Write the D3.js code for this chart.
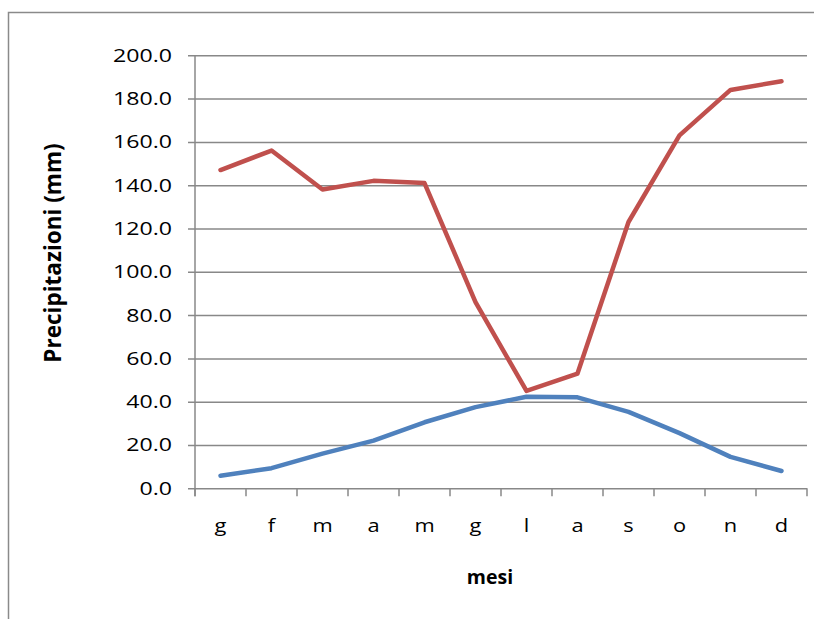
<!DOCTYPE html>
<html><head><meta charset="utf-8">
<script src="https://cdn.jsdelivr.net/npm/d3@7"></script>
<style>body{margin:0;background:#fff}svg{display:block}</style>
</head><body>
<svg id="c" width="814" height="619"></svg>
<script>
const months = ["g","f","m","a","m","g","l","a","s","o","n","d"];
const precipitazioni = [147,156,138,142,141,86,45,53,123,163,184,188];
const temperature = [5.8,9.3,16,22,30.5,37.5,42.3,42,35.3,25.5,14.5,8];
const yTicks = [0,20,40,60,80,100,120,140,160,180,200];
const xTitle = "mesi";
const yTitle = "Precipitazioni (mm)";

const svg = d3.select("#c");
svg.append("rect").attr("width",814).attr("height",619).attr("fill","#fff");
svg.append("rect").attr("x",8.5).attr("y",12.5).attr("width",900).attr("height",700)
  .attr("fill","none").attr("stroke","#8a8a8a").attr("stroke-width",1.5);

const x0=195, x1=807, yb=488.3, yt=55.3;
const xb = d3.scaleBand().domain(d3.range(months.length)).range([x0,x1]);
const y = d3.scaleLinear().domain([0,200]).range([yb,yt]);
const xp = i => xb(i)+xb.bandwidth()/2;

// gridlines + y axis
const ya = d3.axisLeft(y).tickValues(yTicks).tickFormat(d3.format(".1f")).tickSize(x1-x0+7).tickPadding(0);
const gy = svg.append("g").attr("transform",`translate(${x1},0)`).call(ya);
gy.select(".domain").remove();
gy.selectAll("line").attr("stroke","#888").attr("stroke-width",1.5);
gy.selectAll("text").attr("font-family","Open Sans").attr("font-size",18.5).attr("fill","#000")
  .attr("text-anchor","end")
  .attr("transform",`translate(${-(x1-x0)-23},0) scale(1.25,1)`).attr("x",0);

// y axis vertical line
svg.append("line").attr("x1",x0).attr("x2",x0).attr("y1",yt).attr("y2",yb+8)
  .attr("stroke","#888").attr("stroke-width",1.5);

// x axis ticks at boundaries
const bounds = d3.range(months.length+1).map(i => i<months.length ? xb(i) : x1);
svg.selectAll(".xt").data(bounds).enter().append("line")
  .attr("x1",d=>d).attr("x2",d=>d).attr("y1",yb).attr("y2",yb+8)
  .attr("stroke","#888").attr("stroke-width",1.5);
svg.selectAll(".xl").data(months).enter().append("text")
  .attr("transform",(d,i)=>`translate(${xp(i)},532) scale(1.15,1)`)
  .attr("text-anchor","middle").attr("font-family","Open Sans").attr("font-size",19)
  .text(d=>d);

// lines
const line = d3.line().x((d,i)=>xp(i)).y(d=>y(d));
svg.append("path").datum(precipitazioni).attr("d",line).attr("fill","none")
  .attr("stroke","#C0504D").attr("stroke-width",4.5).attr("stroke-linejoin","round").attr("stroke-linecap","round");
svg.append("path").datum(temperature).attr("d",line).attr("fill","none")
  .attr("stroke","#4F81BD").attr("stroke-width",4.5).attr("stroke-linejoin","round").attr("stroke-linecap","round");

// titles
svg.append("text").attr("x",490).attr("y",584).attr("text-anchor","middle")
  .attr("font-family","Open Sans").attr("font-weight","bold").attr("font-size",19.5).text(xTitle);
svg.append("text").attr("transform","translate(61,253) rotate(-90)").attr("text-anchor","middle")
  .attr("font-family","Open Sans").attr("font-weight","bold").attr("font-size",22.5).text(yTitle);
</script>
</body></html>
